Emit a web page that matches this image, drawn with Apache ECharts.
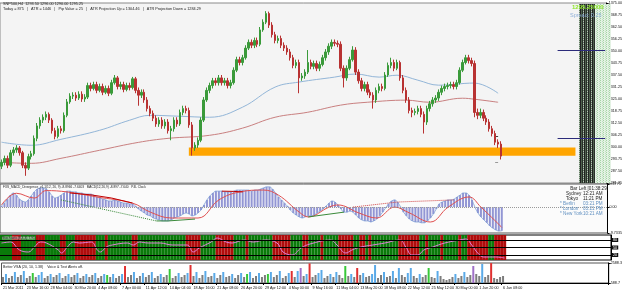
<!DOCTYPE html>
<html><head><meta charset="utf-8">
<script src="https://cdn.jsdelivr.net/npm/echarts@6/dist/echarts.min.js"></script>
<style>html,body{margin:0;padding:0;background:#fff}#c{width:625px;height:293px}</style>
</head><body><div id="c"></div>
<script>
const timeLabels = ['21 Mar 2011','23 Mar 16:00','28 Mar 04:00','30 Mar 20:00','4 Apr 08:00','7 Apr 00:00','11 Apr 12:00','14 Apr 04:00','18 Apr 16:00','21 Apr 08:00','26 Apr 20:00','29 Apr 12:00','4 May 00:00','9 May 16:00','11 May 04:00','13 May 20:00','18 May 08:00','22 May 12:00','25 May 12:00','30 May 00:00','1 Jun 20:00','6 Jun 08:00'];

const opens = [1290.0,1292.0,1294.0,1290.5,1297.0,1298.5,1299.5,1297.0,1290.5,1289.0,
 1295.0,1296.5,1304.5,1311.0,1314.0,1315.5,1317.0,1314.0,1308.5,1305.5,
 1309.5,1308.5,1316.5,1323.5,1326.5,1327.0,1325.5,1327.5,1325.0,1326.0,
 1332.0,1330.5,1332.5,1329.5,1331.5,1328.5,1330.5,1328.0,1333.5,1336.0,
 1331.5,1332.5,1330.0,1332.0,1331.0,1335.5,1329.5,1327.0,1328.5,1324.5,
 1320.0,1317.5,1315.0,1312.0,1314.0,1311.0,1313.0,1308.5,1309.5,1314.0,
 1312.0,1318.0,1320.0,1319.0,1311.5,1299.5,1301.0,1303.5,1314.0,1324.5,
 1329.5,1332.0,1334.5,1333.5,1336.0,1333.5,1334.5,1332.0,1333.5,1340.0,
 1345.5,1344.0,1346.5,1351.5,1354.5,1353.0,1355.5,1353.5,1361.0,1365.0,
 1369.5,1363.5,1358.5,1355.5,1356.5,1353.0,1351.5,1349.5,1346.5,1342.5,
 1344.0,1336.0,1337.0,1339.0,1344.0,1342.0,1343.5,1341.0,1343.0,1346.5,
 1349.5,1352.5,1354.5,1354.0,1353.5,1341.0,1336.0,1341.0,1345.5,1350.5,
 1339.0,1334.5,1330.5,1332.5,1328.5,1327.0,1324.5,1329.5,1331.5,1330.5,
 1337.5,1342.5,1344.0,1341.0,1344.0,1336.0,1329.5,1324.5,1319.0,1318.0,
 1318.5,1320.0,1317.0,1313.0,1320.0,1322.5,1324.5,1325.5,1328.5,1330.5,
 1331.5,1332.0,1332.5,1331.5,1333.5,1340.0,1344.0,1346.5,1345.0,1343.5,
 1318.0,1316.5,1318.0,1315.0,1313.0,1309.5,1307.0,1302.5,1301.5];
const closes = [1292.0,1294.0,1290.5,1297.0,1298.5,1299.5,1297.0,1290.5,1289.0,1295.0,
 1296.5,1304.5,1311.0,1314.0,1315.5,1317.0,1314.0,1308.5,1305.5,1309.5,
 1308.5,1316.5,1323.5,1326.5,1327.0,1325.5,1327.5,1325.0,1326.0,1332.0,
 1330.5,1332.5,1329.5,1331.5,1328.5,1330.5,1328.0,1333.5,1336.0,1331.5,
 1332.5,1330.0,1332.0,1331.0,1335.5,1329.5,1327.0,1328.5,1324.5,1320.0,
 1317.5,1315.0,1312.0,1314.0,1311.0,1313.0,1308.5,1309.5,1314.0,1312.0,
 1318.0,1320.0,1319.0,1311.5,1299.5,1301.0,1303.5,1314.0,1324.5,1329.5,
 1332.0,1334.5,1333.5,1336.0,1333.5,1334.5,1332.0,1333.5,1340.0,1345.5,
 1344.0,1346.5,1351.5,1354.5,1353.0,1355.5,1353.5,1361.0,1365.0,1369.5,
 1363.5,1358.5,1355.5,1356.5,1353.0,1351.5,1349.5,1346.5,1342.5,1344.0,
 1336.0,1337.0,1339.0,1344.0,1342.0,1343.5,1341.0,1343.0,1346.5,1349.5,
 1352.5,1354.5,1354.0,1353.5,1341.0,1336.0,1341.0,1345.5,1350.5,1339.0,
 1334.5,1330.5,1332.5,1328.5,1327.0,1324.5,1329.5,1331.5,1330.5,1337.5,
 1342.5,1344.0,1341.0,1344.0,1336.0,1329.5,1324.5,1319.0,1318.0,1318.5,
 1320.0,1317.0,1313.0,1320.0,1322.5,1324.5,1325.5,1328.5,1330.5,1331.5,
 1332.0,1332.5,1331.5,1333.5,1340.0,1344.0,1346.5,1345.0,1343.5,1318.0,
 1316.5,1318.0,1315.0,1313.0,1309.5,1307.0,1302.5,1301.5,1295.25];
const highs = [1293.5,1295.5,1295.5,1298.5,1300.0,1301.0,1300.5,1298.0,1292.0,1296.5,
 1298.0,1306.0,1312.5,1315.5,1317.0,1318.5,1318.0,1315.0,1310.0,1311.0,
 1311.0,1318.0,1325.0,1328.0,1328.5,1328.5,1329.0,1329.0,1327.5,1333.5,
 1333.5,1334.0,1334.0,1333.0,1333.0,1332.0,1332.0,1335.0,1337.5,1337.0,
 1334.0,1334.0,1333.5,1333.5,1336.5,1336.5,1331.0,1330.0,1330.0,1326.0,
 1321.5,1319.0,1316.5,1315.5,1315.5,1314.5,1314.5,1311.0,1315.5,1315.5,
 1319.5,1321.5,1321.5,1320.5,1313.0,1302.5,1305.0,1315.5,1326.0,1331.0,
 1333.5,1336.0,1336.0,1337.5,1337.5,1336.0,1336.0,1335.0,1341.5,1347.0,
 1347.0,1348.0,1353.0,1356.0,1356.0,1357.0,1357.0,1362.5,1366.5,1370.75,
 1370.5,1365.0,1360.0,1358.0,1358.0,1354.5,1353.0,1351.0,1348.0,1345.5,
 1345.5,1338.5,1340.5,1350.5,1345.5,1345.0,1345.0,1344.5,1348.0,1351.0,
 1354.0,1356.0,1356.0,1355.5,1355.0,1342.5,1342.5,1347.0,1352.5,1352.0,
 1340.5,1336.0,1334.0,1334.0,1330.0,1328.5,1331.0,1333.0,1333.0,1339.0,
 1344.0,1346.5,1345.5,1345.5,1345.0,1337.5,1331.0,1326.0,1320.5,1320.0,
 1321.5,1321.5,1318.5,1321.5,1324.0,1326.0,1327.0,1330.0,1332.0,1333.0,
 1333.5,1334.0,1334.0,1335.0,1341.5,1345.5,1348.0,1348.0,1346.5,1345.0,
 1320.0,1320.0,1319.5,1316.5,1314.5,1311.0,1308.5,1304.0,1303.0];
const lows = [1288.5,1290.5,1289.0,1289.5,1295.5,1297.0,1295.5,1289.0,1285.0,1288.0,
 1293.5,1295.5,1303.0,1309.5,1312.5,1314.0,1312.5,1307.0,1304.0,1304.5,
 1307.0,1307.5,1315.5,1322.5,1325.0,1324.0,1324.5,1323.5,1323.5,1325.0,
 1329.0,1329.5,1328.0,1328.5,1327.0,1327.5,1326.5,1327.0,1332.5,1330.0,
 1330.0,1328.5,1329.0,1329.5,1330.0,1328.0,1321.5,1325.5,1323.0,1318.5,
 1316.0,1313.5,1310.5,1310.5,1309.5,1309.5,1307.0,1303.5,1308.0,1310.5,
 1311.0,1316.5,1317.5,1310.0,1295.5,1298.0,1299.5,1302.5,1313.0,1323.5,
 1328.0,1330.5,1332.0,1332.0,1332.0,1332.0,1330.5,1330.5,1332.5,1339.0,
 1342.5,1342.5,1345.5,1350.5,1351.5,1351.5,1352.0,1352.5,1360.0,1364.0,
 1362.0,1357.0,1354.0,1354.0,1351.5,1350.0,1348.0,1345.0,1341.0,1341.0,
 1328.0,1334.5,1335.5,1338.0,1340.5,1340.5,1339.5,1339.5,1342.0,1345.0,
 1348.0,1351.0,1352.5,1352.0,1339.5,1331.0,1334.5,1340.0,1344.5,1337.5,
 1333.0,1329.0,1329.0,1327.0,1325.5,1320.0,1323.0,1328.0,1329.0,1329.5,
 1336.5,1341.0,1339.5,1340.0,1334.5,1328.0,1323.0,1317.5,1315.5,1316.5,
 1317.0,1315.5,1307.0,1311.5,1318.5,1321.0,1323.0,1324.0,1327.0,1329.0,
 1330.0,1330.5,1330.0,1330.0,1332.5,1339.0,1343.0,1343.5,1342.0,1315.5,
 1314.5,1315.0,1313.5,1311.5,1308.0,1305.5,1301.0,1299.5,1293.5];

// moving averages read at sample points [candle index, price]
const maBlue = [[0,1302.5],[10,1300.9],[20,1304.0],[33,1308.7],[43,1313.9],[50,1316.5],[60,1316.0],[70,1315.5],[81,1320.7],[92,1331.2],[100,1333.8],[112,1336.4],[119,1338.0],[127,1336.4],[133,1337.4],[140,1334.8],[147,1332.2],[159,1333.3],[167,1328.0]];
const maRed = [[0,1292.0],[10,1291.5],[20,1294.1],[33,1298.3],[46,1302.4],[56,1304.5],[70,1306.1],[81,1309.8],[92,1315.5],[103,1318.1],[114,1321.8],[123,1323.3],[136,1324.4],[144,1323.3],[155,1325.4],[159,1324.9],[167,1323.3]];
const supportZone = [1295.5, 1299.75];
const atrLevels = [1350.5, 1304.8];
const lastPrice = 1295.25;

const macdHist = [0.5,1.5,3.0,4.5,5.3,4.5,3.0,2.3,1.9,2.7,
 4.2,5.7,6.8,7.2,7.2,6.8,5.7,4.2,3.4,3.8,
 4.5,5.3,6.0,6.0,5.7,5.7,5.3,5.3,4.9,4.9,
 4.9,4.5,3.8,3.4,3.0,2.7,2.3,2.3,2.7,2.3,
 1.9,1.5,1.5,1.2,1.2,0.4,-0.7,-1.5,-2.2,-3.0,
 -3.3,-4.1,-4.5,-4.8,-5.2,-5.2,-5.2,-4.8,-4.1,-3.7,
 -3.3,-2.6,-2.2,-2.6,-3.3,-3.0,-2.2,-1.1,0.8,2.7,
 4.2,5.3,6.0,6.0,6.0,5.7,5.7,5.7,6.0,6.4,
 6.4,6.4,6.4,6.4,6.0,6.4,6.4,6.8,7.2,7.6,
 7.6,6.8,5.3,3.8,2.7,1.5,0.4,-1.1,-2.2,-3.0,
 -3.7,-4.1,-3.7,-3.3,-3.3,-3.0,-2.2,-1.5,-0.7,0.4,
 1.5,2.3,1.9,0.8,-0.7,-1.9,-1.9,-1.5,-1.9,-3.0,
 -4.1,-4.8,-5.2,-5.2,-5.6,-5.2,-4.5,-3.3,-1.9,-0.3,
 1.2,2.3,2.7,1.9,0.1,-1.9,-3.3,-4.5,-5.2,-5.6,
 -5.6,-5.9,-5.9,-5.2,-4.1,-2.6,-0.7,1.2,1.9,2.3,
 2.7,2.7,3.0,3.8,4.5,5.3,5.3,4.5,2.7,-0.1,
 -2.2,-3.7,-4.8,-5.9,-7.1,-7.9,-8.6,-9.0,-8.9];
const macdSignal = [[0,0.8],[5,5.2],[11,3.4],[15,6.2],[22,5.7],[32,3.8],[44,1.5],[50,-1.9],[57,-4.1],[66,-4.1],[73,2.7],[80,5.7],[88,6.4],[93,4.5],[100,-1.9],[103,-3.7],[110,0.0],[113,0.8],[120,-2.2],[126,-4.1],[132,0.0],[137,-2.2],[144,-5.6],[150,0.0],[157,3.8],[161,0.0],[168,-7.6]];
const divRedSolid1 = [[23,5.3],[30,4.6],[37,3.4],[44,1.5]];
const divRedSolid2 = [[74,6.0],[78,5.9],[81,5.7]];
const divRedDotted = [[118,0.0],[133,1.9],[152,2.7]];
const divGreenDotted = [[20,2.7],[52,-5.2]];
const divGreenSolid1 = [[52,-5.2],[56,-5.2],[65,-4.5]];
const divGreenSolid2 = [[103,-3.7],[115,-1.9]];

const oscPoints = [[0,68],[3,72],[6,40],[9,32],[11,52],[13,72],[15,68],[19,40],[20,28],[22,52],[24,72],[26,68],[30,72],[32,40],[33,32],[35,52],[37,60],[42,68],[44,60],[46,72],[49,68],[53,68],[57,60],[62,60],[64,32],[66,48],[70,72],[72,88],[75,72],[77,68],[81,80],[84,72],[88,80],[92,68],[94,32],[97,20],[100,48],[103,64],[110,80],[112,60],[115,28],[117,40],[120,52],[124,60],[128,68],[133,80],[135,52],[137,20],[139,20],[141,40],[144,52],[148,68],[153,80],[155,84],[157,60],[159,28],[161,12],[165,12],[168,8]];
const oscRedRanges = [[4,6],[12,14],[20,21],[25,31],[35,35],[44,45],[62,66],[72,77],[82,82],[91,96],[101,102],[107,107],[113,117],[120,121],[123,123],[133,139],[142,142],[147,147],[153,153],[156,162],[165,168]];
const oscLevels = [80, 50, 20];

const volumes = [1189,1489,1089,1289,1689,1189,1389,1789,1089,1289,
 1589,1189,1389,1689,1089,1289,1489,1189,1389,1589,
 1089,1289,1489,1189,1389,1589,1089,1289,1489,1189,
 1389,1589,1089,1289,1489,1389,1189,1489,1089,1289,
 1489,2289,1189,1389,1689,1089,1289,1589,1189,1389,
 1689,1089,1289,1489,1189,1389,1989,1089,1289,1589,
 1189,1389,1589,2389,1289,1689,1089,1389,1789,1189,
 1289,1589,1089,1389,1689,1189,1289,1489,1089,1389,
 1589,1189,1489,1689,1089,1289,1589,1189,1389,1489,
 1689,1189,1389,1789,1089,1289,1589,1789,1189,1789,
 2089,1289,1489,2550,1189,1389,1589,1889,1089,1289,
 1489,1189,1689,1389,1089,2289,1289,1489,1189,2089,
 1389,1589,1189,1289,1489,2389,1089,1389,1689,1189,
 1289,1789,1089,2089,1389,1189,1589,2089,1289,1089,
 1489,1189,1389,2089,1189,1089,1789,1289,989,889,
 989,1189,1489,1089,1289,1689,1189,1389,2289,1489,
 1289,2489,1189,1389,2580,1089,989,1189,1289];
const volKinds = 'gbggbggbgg'+'Ggbbggbggb'+'ggbggbggbg'+'gbggbGgbgg'+'bRggbggbgg'+'bggbggGggb'+'ggbRgbggbg'+'gbggbggbgg'+'bgGbggbggG'+'bggbggbRgb'+'PgbRggbbgg'+'bgbggGgbgR'+'gbggbbggbg'+'gbgbggbbgg'+'bggGggbggg'+'ggbggbggPg'+'gbggRgggg';

// ---------- build ----------
const N = closes.length;
const TOTAL = 204;
const cats = [];
for (let i = 0; i < TOTAL; i++) cats.push((i % 8 === 0 && i / 8 < timeLabels.length) ? timeLabels[i / 8] : '');
const candleData = opens.map((o, i) => [o, closes[i], lows[i], highs[i]]);
const volColorMap = {g:'#7d7d7d', b:'#5aaae8', G:'#38c838', R:'#e03030', P:'#a070c8'};
const volData = volumes.map((v, i) => ({value: v, itemStyle: {color: volColorMap[volKinds[i]]}}));
const oscState = new Array(N).fill(0);
oscRedRanges.forEach(r => { for (let i = r[0]; i <= r[1]; i++) oscState[i] = 1; });
const bandData = oscState.map(s => ({value: 100, itemStyle: {color: s ? '#b00c0c' : '#0a7a0a'}}));

function pat(w, h, cols) {
  const c = document.createElement('canvas'); c.width = w; c.height = h;
  const g = c.getContext('2d');
  cols.forEach(p => { g.fillStyle = p[4]; g.fillRect(p[0], p[1], p[2], p[3]); });
  return c;
}
const darkPat = pat(4, 2, [[0,0,1,2,'#222'],[1,0,1,2,'#4c604c'],[2,0,1,2,'#2a2f2a'],[3,0,1,2,'#637b63'],[3,1,1,1,'#b8c8b8']]);
const lightPat = pat(3, 2, [[0,0,3,2,'#e4f2e4'],[0,0,1,1,'#a6d2a6'],[2,1,1,1,'#c0e0c0']]);

const FF = 'Liberation Sans, Arial, sans-serif';
const xAx = (gi, show) => ({
  type: 'category', gridIndex: gi, data: cats, boundaryGap: true,
  axisLine: {show: show, lineStyle: {color: '#000', width: 1}},
  axisTick: {show: show, interval: (idx, v) => v !== '', length: 2, lineStyle: {color: '#000'}},
  axisLabel: {show: show, interval: 0, fontSize: 3.7, color: '#111', fontFamily: FF, align: 'left', margin: 3},
  splitLine: {show: false}
});
const yLab = (fmt) => ({fontSize: 3.7, color: '#111', fontFamily: FF, margin: 2, formatter: fmt});

const chart = echarts.init(document.getElementById('c'), null, {renderer: 'canvas'});
chart.setOption({
  animation: false,
  backgroundColor: '#ffffff',
  grid: [
    {left: 0, right: 14, top: 3, height: 180, show: true, backgroundColor: '#f4f4f4', borderColor: '#8a8a8a', borderWidth: 1},
    {left: 0, right: 14, top: 184, height: 49, show: true, backgroundColor: '#fbfbfb', borderColor: '#555', borderWidth: 1},
    {left: 0, right: 14, top: 235, height: 25, show: true, backgroundColor: '#ffffff', borderColor: '#000', borderWidth: 1},
    {left: 0, right: 14, top: 263, height: 20, show: true, backgroundColor: '#ffffff', borderColor: '#555', borderWidth: 1}
  ],
  xAxis: [xAx(0, false), xAx(1, false), xAx(2, false), xAx(3, true)],
  yAxis: [
    {type: 'value', gridIndex: 0, position: 'right', min: 1281.25, max: 1375, interval: 6.25, scale: true,
      axisLine: {show: true, lineStyle: {color: '#000'}}, axisTick: {show: true, length: 2}, splitLine: {show: false},
      axisLabel: yLab(v => v.toFixed(2))},
    {type: 'value', gridIndex: 1, position: 'right', min: -9.7335, max: 8.6775, interval: 9.7335,
      axisLine: {show: true, lineStyle: {color: '#000'}}, axisTick: {show: true, length: 2}, splitLine: {show: false},
      axisLabel: yLab(v => Math.abs(v) < 1e-9 ? '0.00' : v.toFixed(4))},
    {type: 'value', gridIndex: 2, position: 'right', min: 0, max: 100, interval: 50,
      axisLine: {show: true, lineStyle: {color: '#000'}}, axisTick: {show: false}, splitLine: {show: false},
      axisLabel: {show: false}},
    {type: 'value', gridIndex: 3, position: 'right', min: 588.7, max: 2588.3, interval: 1999.6,
      axisLine: {show: true, lineStyle: {color: '#000'}}, axisTick: {show: true, length: 2}, splitLine: {show: false},
      axisLabel: yLab(v => v.toFixed(1))}
  ],
  series: [
    {type: 'line', xAxisIndex: 0, yAxisIndex: 0, data: [], z: 1, silent: true,
      markArea: {silent: true, itemStyle: {color: '#ffa500', opacity: 1},
        data: [[{xAxis: 63, yAxis: supportZone[1]}, {xAxis: 193, yAxis: supportZone[0]}]]}},
    {type: 'line', xAxisIndex: 0, yAxisIndex: 0, data: maBlue, smooth: 0.4, showSymbol: false, z: 2,
      lineStyle: {color: '#93b6d8', width: 1}},
    {type: 'line', xAxisIndex: 0, yAxisIndex: 0, data: maRed, smooth: 0.4, showSymbol: false, z: 2,
      lineStyle: {color: '#c98080', width: 1}},
    {type: 'candlestick', xAxisIndex: 0, yAxisIndex: 0, data: candleData, barWidth: 2, z: 5,
      itemStyle: {color: '#3a9a3a', color0: '#b83232', borderColor: '#3a9a3a', borderColor0: '#b83232', borderWidth: 1},
      markLine: {silent: true, symbol: ['none', 'none'], animation: false,
        data: [
          [{coord: [187, atrLevels[0]], lineStyle: {color: '#2b2b7a', width: 1, type: 'solid'}}, {coord: [203, atrLevels[0]]}],
          [{coord: [187, atrLevels[1]], lineStyle: {color: '#2b2b7a', width: 1, type: 'solid'}}, {coord: [203, atrLevels[1]]}],
          [{coord: [166, 1305.6], lineStyle: {color: '#444', width: 1, type: 'solid'}}, {coord: [167, 1305.6]}],
          [{coord: [166, 1292.0], lineStyle: {color: '#999', width: 1, type: 'solid'}}, {coord: [167, 1292.0]}],
          {yAxis: lastPrice, lineStyle: {opacity: 0},
            label: {show: true, position: 'end', distance: 1, formatter: '1295.25', color: '#fff', backgroundColor: '#000',
              fontSize: 3.8, fontFamily: FF, padding: [1, 1, 0, 1]}}
        ],
        label: {show: false}}},
    // MACD
    {type: 'bar', xAxisIndex: 1, yAxisIndex: 1, data: macdHist, barWidth: 2, z: 2,
      itemStyle: {color: '#9296d4'},
      markLine: {silent: true, symbol: ['none', 'none'], label: {show: false},
        lineStyle: {color: '#9a9a9a', type: 'dotted', width: 1}, data: [{yAxis: 0}]}},
    {type: 'line', xAxisIndex: 1, yAxisIndex: 1, data: macdHist, showSymbol: false, smooth: 0.3, z: 3,
      lineStyle: {color: '#7d9fd6', width: 1, opacity: 0.8}},
    {type: 'line', xAxisIndex: 1, yAxisIndex: 1, data: macdSignal, showSymbol: false, smooth: 0.4, z: 4,
      lineStyle: {color: '#e05050', width: 1}},
    {type: 'line', xAxisIndex: 1, yAxisIndex: 1, data: divGreenDotted, showSymbol: false, z: 4,
      lineStyle: {color: '#3a8a3a', width: 1, type: 'dotted'}},
    {type: 'line', xAxisIndex: 1, yAxisIndex: 1, data: divGreenSolid1, symbol: 'diamond', symbolSize: 3, z: 4,
      itemStyle: {color: '#207020'}, lineStyle: {color: '#3a8a3a', width: 1}},
    {type: 'line', xAxisIndex: 1, yAxisIndex: 1, data: divGreenSolid2, symbol: 'diamond', symbolSize: 3, z: 4,
      itemStyle: {color: '#207020'}, lineStyle: {color: '#3a8a3a', width: 1}},
    {type: 'line', xAxisIndex: 1, yAxisIndex: 1, data: divRedSolid1, symbol: 'diamond', symbolSize: 3, z: 4,
      itemStyle: {color: '#c00000'}, lineStyle: {color: '#c00000', width: 1}},
    {type: 'line', xAxisIndex: 1, yAxisIndex: 1, data: divRedSolid2, symbol: 'diamond', symbolSize: 3, z: 4,
      itemStyle: {color: '#c00000'}, lineStyle: {color: '#c00000', width: 1}},
    {type: 'line', xAxisIndex: 1, yAxisIndex: 1, data: divRedDotted, symbol: 'diamond', symbolSize: 3, z: 4,
      itemStyle: {color: '#c00000'}, lineStyle: {color: '#d04040', width: 1, type: 'dotted'}},
    // oscillator band
    {type: 'bar', xAxisIndex: 2, yAxisIndex: 2, data: bandData, barCategoryGap: '0%', barWidth: '100%', z: 2},
    {type: 'line', xAxisIndex: 2, yAxisIndex: 2, data: oscPoints, smooth: 0.4, showSymbol: false, z: 4,
      lineStyle: {color: '#e27ada', width: 1},
      markLine: {silent: true, symbol: ['none', 'none'], lineStyle: {color: '#000', width: 1, type: 'solid'},
        label: {show: true, position: 'end', distance: 1, color: '#fff', backgroundColor: '#111', fontSize: 3.8, fontFamily: FF, padding: [0, 1]},
        data: oscLevels.map(v => ({yAxis: v}))}},
    // volume
    {type: 'bar', xAxisIndex: 3, yAxisIndex: 3, data: volData, barWidth: 2, z: 2}
  ],
  graphic: [
    {type: 'rect', z: 1, shape: {x: 579, y: 4, width: 16, height: 179}, style: {fill: {image: darkPat, repeat: 'repeat'}}},
    {type: 'rect', z: 1, shape: {x: 595, y: 4, width: 16, height: 179}, style: {fill: {image: lightPat, repeat: 'repeat'}}},
    {type: 'text', z: 100, left: 3, top: 2, style: {text: 'SNP500,H4  1293.50 1296.00 1290.00 1295.25', fill: '#222', font: '3.8px ' + FF}},
    {type: 'text', z: 100, left: 3, top: 6.5, style: {text: 'Today = 875   |   ATR = 1446   |   Pip Value = 25   |   ATR Projection Up = 1304.46   |   ATR Projection Down = 1284.29', fill: '#222', font: '3.8px ' + FF}},
    {type: 'text', z: 100, left: 572, top: 4, style: {text: '1295.25000', fill: '#8ee62a', font: 'bold 6px ' + FF}},
    {type: 'text', z: 100, left: 570, top: 12, style: {text: 'Spread: 0.25', fill: '#8fb0d8', font: '5.5px ' + FF}},
    {type: 'text', z: 100, left: 3, top: 186, style: {text: 'FXS_MACD_Divergence_v1.1(12, 26, 9) -8.8966 -7.6403   MACD(12,26,9) -8.897 -7.640   P4L Clock', fill: '#222', font: '3.2px ' + FF}},
    {type: 'text', z: 100, right: 17, top: 186, style: {text: 'Bar Left [01:38:29]', fill: '#222', font: '4.6px ' + FF, align: 'right'}},
    {type: 'text', z: 100, left: 566, top: 191, style: {text: 'Sydney\nTokyo', fill: '#222', font: '4.6px ' + FF, align: 'right', lineHeight: 5}},
    {type: 'text', z: 100, left: 560, top: 201, style: {text: '* Berlin\n* London\n* New York', fill: '#5f8fc0', font: '4.6px ' + FF, align: 'right', lineHeight: 5}},
    {type: 'text', z: 100, left: 583, top: 191, style: {text: '12:21 AM\n11:21 PM', fill: '#222', font: '4.6px ' + FF, lineHeight: 5}},
    {type: 'text', z: 100, left: 583, top: 201, style: {text: '03:21 PM\n03:21 PM\n10:21 AM', fill: '#5f8fc0', font: '4.6px ' + FF, lineHeight: 5}},
    {type: 'text', z: 100, left: 2, top: 236.5, style: {text: 'Stochastic(8,3,3) 7.91', fill: '#111', font: '3.4px ' + FF, backgroundColor: 'rgba(255,255,255,0.55)'}},
    {type: 'text', z: 100, left: 3, top: 264.5, style: {text: 'Better VSA (20, 10, 1.38)    Voice & Text Alerts off.', fill: '#222', font: '3.6px ' + FF}}
  ]
});
</script></body></html>
